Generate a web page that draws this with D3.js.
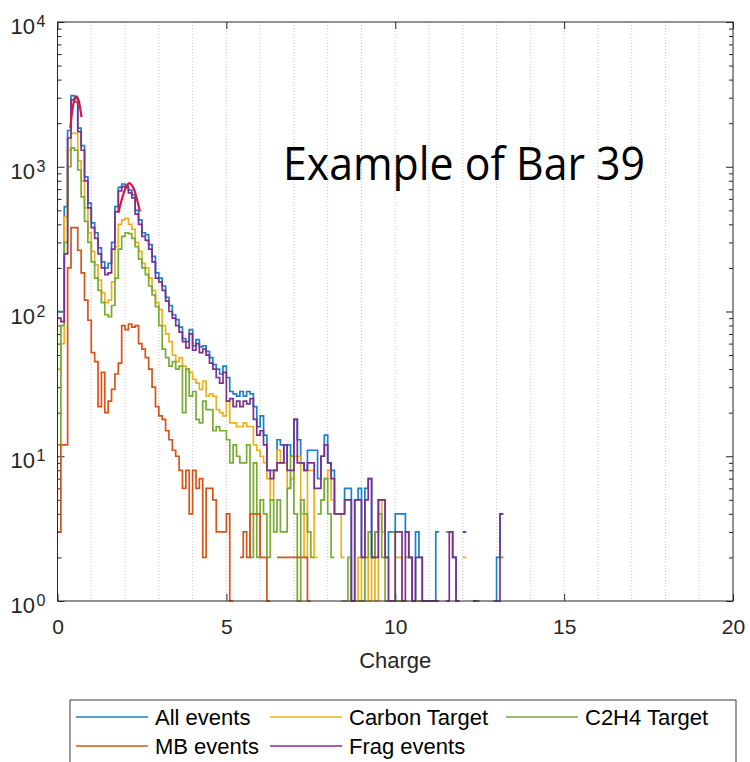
<!DOCTYPE html>
<html>
<head>
<meta charset="utf-8">
<script src="https://cdn.jsdelivr.net/npm/d3@7"></script>
<style>
  body { margin: 0; background: #fff; }
  svg { display: block; font-family: "Liberation Sans", Arial, Helvetica, sans-serif; }
</style>
</head>
<body>
<svg id="chart" width="750" height="762"></svg>
<script>
// counts per charge bin (bin width 0.1, first bin starts at 0); 0 = empty bin
const binWidth = 0.1;

const allEvents = [100,100,530,1780,3100,2950,1850,1400,850,560,410,350,275,220,200,215,300,530,720,760,
  740,690,640,500,430,350,340,290,240,185,170,150,125,110,95,88,78,65,62,75,58,64,57,58,53,48,43,40,37,42,
  35,28,27,26,28,26,28,27,
  22,16,19,14,8,8,8,13,12,9,12,10,18,13,9,8,11,11,11,7,10,14,9,8,4,4,4,6,6,1,
  5,6,2,6,7,2,3,5,5,2,3,3,4,4,4,3,2,1,3,2,1,1,1,1,3,0,0,3,3,2,1,0,3,0,0,1,1,0,0,0,0,1,2,4,0];

const carbonTarget = [40,60,450,1300,1700,1700,1100,800,520,350,260,210,165,135,115,120,160,280,400,430,
  440,400,370,300,260,215,200,170,140,115,103,80,70,62,50,45,48,42,40,38,34,32,29,33,26,27,26,21,20,19,
  24,17,17,16,16,17,16,16,
  12,11,10,9,7,5,8,11,9,9,6,7,10,10,4,2,8,8,2,0,5,7,8,5,4,4,2,0,0,1,
  1,2,1,2,1,2,1,5,3,2,1,0,2,2,1,1,0,0,1,1,0,0,0,0,0,0,0,0,0,0,0,0,2,0,0,0,0,0,0,0,0,0,0,2,0];

const c2h4Target = [12,80,300,1000,1350,1300,950,620,420,300,220,170,140,115,95,92,110,170,270,330,
  350,345,320,280,230,200,180,150,130,108,80,55,48,42,45,40,42,20,40,26,28,18,17,24,21,21,15,16,15,15,
  13,9,12,10,9,9,12,2,
  9,2,5,4,2,5,3,5,3,3,6,10,4,1,5,4,3,2,0,4,5,7,4,2,0,0,1,1,2,1,
  0,1,1,2,3,2,3,4,2,1,0,3,1,1,0,2,2,0,0,1,0,0,0,0,0,0,0,3,0,0,0,0,0,0,0,0,0,0,0,0,0,0,0,2,0];

const mbEvents = [3,12,12,200,380,380,265,185,120,87,52,45,22,38,20,24,29,37,44,80,
  75,82,78,80,60,55,48,40,30,22,19,18,15,13,11,10,8,6,8,4,8,6,7,2,6,6,5,3,3,3,
  4,1,0,0,2,3,2,4,
  4,4,2,2,1,0,0,2,2,2,2,2,2,2,2,2,1];

const fragEvents = [90,85,250,1580,2900,2800,1750,1300,800,520,380,320,250,200,180,185,270,490,680,730,
  720,660,610,470,400,330,310,270,220,170,160,140,118,100,90,80,72,62,56,70,54,60,52,55,50,44,40,35,32,38,
  24,25,22,24,22,24,23,25,
  18,14,15,12,8,7,8,9,9,12,8,8,18,9,9,8,9,9,6,6,10,12,9,7,4,4,4,5,5,1,
  5,5,2,5,7,2,2,5,5,2,1,1,3,3,1,3,2,1,2,2,1,1,1,1,1,0,0,1,3,2,1,0,3,0,0,1,0,0,0,0,0,0,1,4,0];

// gaussian fits over the two peaks
const fitPeak1 = [[0.38,1850],[0.44,2450],[0.50,2900],[0.56,3060],[0.62,2900],[0.67,2550],[0.71,2200]];
const fitPeak2 = [[1.80,480],[1.90,590],[2.00,700],[2.12,770],[2.24,720],[2.34,610],[2.44,490]];

const xTicks = [0, 5, 10, 15, 20];
const yTicks = [1, 10, 100, 1000, 10000];
const yExponents = ['0', '1', '2', '3', '4'];
const legendLabels = ['All events', 'Carbon Target', 'C2H4 Target', 'MB events', 'Frag events'];

const svg = d3.select('#chart');
const plotLeft = 57.5, plotRight = 733, plotTop = 22, plotBottom = 601;

const x = d3.scaleLinear().domain([0, 20]).range([plotLeft, plotRight]);
const y = d3.scaleLog().domain([1, 10000]).range([plotBottom, plotTop]);

const axisColor = '#262626';

// series in legend order, colours follow the figure
const series = [
  { name: legendLabels[0], values: allEvents, color: '#1a80c8' },
  { name: legendLabels[1], values: carbonTarget, color: '#EDB120' },
  { name: legendLabels[2], values: c2h4Target, color: '#77AC30' },
  { name: legendLabels[3], values: mbEvents, color: '#D95319' },
  { name: legendLabels[4], values: fragEvents, color: '#7E2F8E' }
];

// vertical dotted grid at every integer charge
svg.append('g')
  .selectAll('line')
  .data(d3.range(1, 20))
  .enter()
  .append('line')
  .attr('x1', d => x(d)).attr('x2', d => x(d))
  .attr('y1', plotTop).attr('y2', plotBottom)
  .attr('stroke', '#c4c4c4')
  .attr('stroke-width', 1)
  .attr('stroke-dasharray', '1,2');

// axes (ticks pointing inwards)
const gx = svg.append('g')
  .attr('transform', `translate(0,${plotBottom})`)
  .call(d3.axisBottom(x).tickValues(xTicks).tickSizeInner(-7).tickSizeOuter(0).tickPadding(18));
gx.select('.domain').remove();
gx.selectAll('line').attr('stroke', axisColor);
gx.selectAll('text').attr('font-size', 21).attr('fill', axisColor);

const gxTop = svg.append('g')
  .attr('transform', `translate(0,${plotTop})`)
  .call(d3.axisTop(x).tickValues(xTicks).tickSizeInner(-7).tickSizeOuter(0).tickFormat(''));
gxTop.select('.domain').remove();
gxTop.selectAll('line').attr('stroke', axisColor);

const minorY = [];
for (let e = 0; e < 4; e++) {
  for (let m = 2; m <= 9; m++) minorY.push(m * Math.pow(10, e));
}

function yAxis(axisFn, xPos, values, size) {
  const g = svg.append('g')
    .attr('transform', `translate(${xPos},0)`)
    .call(axisFn(y).tickValues(values).tickSizeInner(-size).tickSizeOuter(0).tickFormat(''));
  g.select('.domain').remove();
  g.selectAll('line').attr('stroke', axisColor);
  return g;
}
yAxis(d3.axisLeft, plotLeft, yTicks, 7);
yAxis(d3.axisLeft, plotLeft, minorY, 4);
yAxis(d3.axisRight, plotRight, yTicks, 7);
yAxis(d3.axisRight, plotRight, minorY, 4);

// y tick labels as powers of ten
svg.append('g').selectAll('text')
  .data(yTicks)
  .enter()
  .append('text')
  .attr('x', 35)
  .attr('y', d => y(d) + 12)
  .attr('text-anchor', 'end')
  .attr('font-size', 22)
  .attr('fill', axisColor)
  .text('10');
svg.append('g').selectAll('text')
  .data(yTicks)
  .enter()
  .append('text')
  .attr('x', 36.5)
  .attr('y', d => y(d) + 5)
  .attr('font-size', 16)
  .attr('fill', axisColor)
  .text((d, i) => yExponents[i]);

// histogram stairs
const stairs = d3.line()
  .defined(d => d[1] > 0)
  .x(d => x(d[0]))
  .y(d => y(d[1]));

function stairPoints(values) {
  const pts = [];
  values.forEach((v, i) => {
    pts.push([i * binWidth, v]);
    pts.push([(i + 1) * binWidth, v]);
  });
  return pts;
}

svg.append('g')
  .selectAll('path')
  .data(series)
  .enter()
  .append('path')
  .attr('d', d => stairs(stairPoints(d.values)))
  .attr('fill', 'none')
  .attr('stroke', d => d.color)
  .attr('stroke-width', 1.7);

// fits
const fitLine = d3.line()
  .x(d => x(d[0]))
  .y(d => y(d[1]))
  .curve(d3.curveCatmullRom);

svg.append('g')
  .selectAll('path')
  .data([fitPeak1, fitPeak2])
  .enter()
  .append('path')
  .attr('d', fitLine)
  .attr('fill', 'none')
  .attr('stroke', '#e0153c')
  .attr('stroke-width', 2.2);

// axes box
svg.append('rect')
  .attr('x', plotLeft).attr('y', plotTop)
  .attr('width', plotRight - plotLeft).attr('height', plotBottom - plotTop)
  .attr('fill', 'none')
  .attr('stroke', axisColor)
  .attr('stroke-width', 1);

// x label
svg.append('text')
  .attr('x', (plotLeft + plotRight) / 2)
  .attr('y', 668)
  .attr('text-anchor', 'middle')
  .attr('font-size', 22)
  .attr('fill', axisColor)
  .text('Charge');

// annotation
svg.append('text')
  .attr('x', 283)
  .attr('y', 180)
  .attr('font-family', '"Open Sans", "Noto Sans", sans-serif')
  .attr('font-size', 45)
  .attr('textLength', 362)
  .attr('lengthAdjust', 'spacingAndGlyphs')
  .attr('fill', '#000')
  .text('Example of Bar 39');

// legend, three columns filled row by row
const legend = svg.append('g');
legend.append('rect')
  .attr('x', 70).attr('y', 700)
  .attr('width', 666).attr('height', 80)
  .attr('fill', '#fff')
  .attr('stroke', '#3a3a3a')
  .attr('stroke-width', 1);

const colX = [76, 270, 506];
const rowY = [717, 746];
const item = legend.selectAll('g.item')
  .data(series)
  .enter()
  .append('g')
  .attr('class', 'item')
  .attr('transform', (d, i) => `translate(${colX[i % 3]},${rowY[Math.floor(i / 3)]})`);
item.append('line')
  .attr('x1', 0).attr('x2', 72)
  .attr('y1', 0).attr('y2', 0)
  .attr('stroke', d => d.color)
  .attr('stroke-width', 1.3);
item.append('text')
  .attr('x', 79)
  .attr('y', 8)
  .attr('font-size', 22)
  .attr('fill', '#000')
  .text(d => d.name);
</script>
</body>
</html>
